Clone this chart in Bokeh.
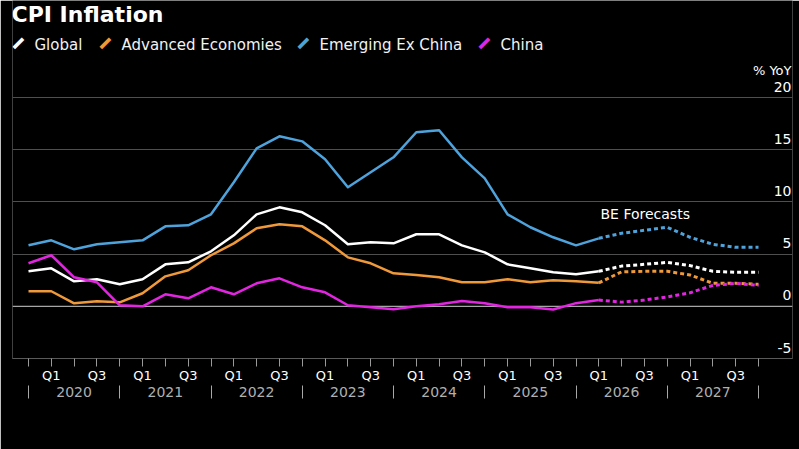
from bokeh.plotting import figure
from bokeh.models import (Range1d, LinearAxis, FixedTicker, Label, LabelSet,
                          ColumnDataSource, Span, Grid)
from bokeh.core.properties import value
from bokeh.embed import file_html
from bokeh.resources import INLINE

# ---------------- data ----------------
quarters = ["Q4 2019",
            "Q1 2020", "Q2 2020", "Q3 2020", "Q4 2020",
            "Q1 2021", "Q2 2021", "Q3 2021", "Q4 2021",
            "Q1 2022", "Q2 2022", "Q3 2022", "Q4 2022",
            "Q1 2023", "Q2 2023", "Q3 2023", "Q4 2023",
            "Q1 2024", "Q2 2024", "Q3 2024", "Q4 2024",
            "Q1 2025", "Q2 2025", "Q3 2025", "Q4 2025",
            "Q1 2026", "Q2 2026", "Q3 2026", "Q4 2026",
            "Q1 2027", "Q2 2027", "Q3 2027", "Q4 2027"]

global_cpi = [3.35, 3.64, 2.39, 2.59, 2.11, 2.59, 4.02, 4.21, 5.27, 6.80, 8.81,
              9.48, 9.00, 7.76, 5.94, 6.13, 6.03, 6.90, 6.90, 5.84, 5.17, 4.02,
              3.64, 3.26, 3.07, 3.35, 3.85, 4.02, 4.21, 3.90, 3.35, 3.26, 3.26]
advanced = [1.44, 1.44, 0.29, 0.48, 0.38, 1.25, 2.87, 3.45, 4.89, 6.03, 7.47,
            7.85, 7.66, 6.32, 4.69, 4.12, 3.16, 3.00, 2.78, 2.30, 2.30, 2.59,
            2.30, 2.49, 2.39, 2.25, 3.30, 3.35, 3.35, 3.00, 2.20, 2.20, 2.11]
emerging_ex_china = [5.84, 6.32, 5.46, 5.94, 6.13, 6.32, 7.66, 7.76, 8.81, 11.88,
                     15.13, 16.28, 15.80, 14.08, 11.40, 12.84, 14.27, 16.67, 16.86,
                     14.27, 12.26, 8.81, 7.57, 6.61, 5.84, 6.51, 6.99, 7.28, 7.57,
                     6.61, 5.94, 5.65, 5.65]
china = [4.12, 4.89, 2.78, 2.30, 0.10, 0.00, 1.15, 0.77, 1.82, 1.15, 2.20,
         2.68, 1.82, 1.34, 0.10, -0.10, -0.29, 0.00, 0.20, 0.50, 0.30, -0.10,
         -0.10, -0.30, 0.30, 0.60, 0.40, 0.60, 0.90, 1.30, 2.00, 2.20, 2.00]

first_forecast = "Q1 2026"
years = ["2020", "2021", "2022", "2023", "2024", "2025", "2026", "2027"]
y_ticks = [-5, 0, 5, 10, 15, 20]
y_tick_labels = ["-5", "0", "5", "10", "15", "20"]

series_names = ["Global", "Advanced Economies", "Emerging Ex China", "China"]
series_colors = ["#ffffff", "#f0993a", "#4ea3dc", "#e225e0"]

# ---------------- geometry ----------------
W, H = 799, 449
FL, FR, FT, FB = 12, 792, 0, 358
PXQ = 22.8125          # pixels per quarter
X0PX = 28              # pixel of first quarter
PXU = 10.44            # pixels per percentage point
x_start = (FL - X0PX) / PXQ
x_end = (FR - X0PX) / PXQ
y_start = -5
y_end = y_start + (FB - FT) / PXU


def dx(px):
    return x_start + (px - FL) / PXQ


def dy(py):
    return y_start + (FB - py) / PXU


FONT = "DejaVu Sans"

p = figure(width=W, height=H,
           x_range=Range1d(x_start, x_end), y_range=Range1d(y_start, y_end),
           output_backend="svg", toolbar_location=None,
           x_axis_location=None, y_axis_location=None,
           min_border_left=FL, min_border_right=W - FR,
           min_border_top=FT, min_border_bottom=H - FB,
           background_fill_color="black", border_fill_color="black",
           outline_line_color=None)
p.grid.visible = False

p.add_layout(Grid(dimension=1, ticker=FixedTicker(ticks=[t for t in y_ticks if t > 0]),
                  grid_line_color="#4f4f4f", grid_line_width=1))
p.add_layout(Span(location=0, dimension="width", line_color="#d0d0d0",
                  line_width=1, level="underlay"))

# ---------------- axes ----------------
xi = list(range(len(quarters)))
q_overrides = {i: (q[:2] if q[:2] in ("Q1", "Q3") else "") for i, q in enumerate(quarters)}
xq = LinearAxis(ticker=FixedTicker(ticks=xi), major_label_overrides=q_overrides,
                axis_line_color="#5a5a5a", axis_line_width=1,
                major_tick_line_color="#9a9a9a", major_tick_out=8, major_tick_in=0,
                minor_tick_line_color=None,
                major_label_text_color="white", major_label_text_font=FONT,
                major_label_text_font_size="13px", major_label_standoff=1)
p.add_layout(xq, "below")

# year row: labels at year centres, separators drawn as minor ticks
sep_ticks = [4 * k for k in range(len(years) + 1)]
year_ticks = [4 * k + 2 for k in range(len(years))]
y_overrides = {t: yr for t, yr in zip(year_ticks, years)}
xy = LinearAxis(ticker=FixedTicker(ticks=year_ticks, minor_ticks=sep_ticks),
                major_label_overrides=y_overrides,
                axis_line_color=None, major_tick_line_color=None,
                major_tick_out=0, major_tick_in=0,
                minor_tick_line_color="#a8a8a8", minor_tick_line_width=1,
                minor_tick_out=13, minor_tick_in=0,
                major_label_text_color="#b0b0b0", major_label_text_font=FONT,
                major_label_text_font_size="14px", major_label_standoff=-12)
p.add_layout(xy, "below")

# ---------------- lines ----------------
fs = quarters.index(first_forecast)
order = [2, 1, 0, 3]
all_series = [global_cpi, advanced, emerging_ex_china, china]
for k in order:
    s = all_series[k]
    c = series_colors[k]
    p.line(xi[:fs + 1], s[:fs + 1], line_color=c, line_width=2.5, line_join="round")
    p.line(xi[fs:], s[fs:], line_color=c, line_width=3, line_dash="4 3")

# ---------------- y labels ----------------
ysrc = ColumnDataSource(dict(x=[x_end] * len(y_ticks), y=y_ticks, text=y_tick_labels))
p.add_layout(LabelSet(x="x", y="y", text="text", source=ysrc, x_offset=-1, y_offset=6,
                      text_align="right", text_baseline="bottom",
                      text_color=value("white"), text_font=value(FONT),
                      text_font_size=value("14px")))
p.add_layout(Label(x=dx(FR - 1), y=dy(70), text="% YoY", text_align="right",
                   text_baseline="middle", text_color="white", text_font=FONT,
                   text_font_size="13px"))

# ---------------- title & legend ----------------
p.add_layout(Label(x=dx(11), y=dy(14), text="CPI Inflation", text_align="left",
                   text_baseline="middle", text_color="white", text_font=FONT,
                   text_font_style="bold", text_font_size="22px"))

legend_text_px = [34, 121, 319, 500]
legend_mark_px = [18, 105, 303, 484]
for name, c, tx, mx in zip(series_names, series_colors, legend_text_px, legend_mark_px):
    p.add_layout(Label(x=dx(mx), y=dy(43), text="\u2501", text_align="center",
                       text_baseline="middle", angle=0.785, text_color=c,
                       text_font=FONT, text_font_size="21px"))
    p.add_layout(Label(x=dx(tx), y=dy(44), text=name, text_align="left",
                       text_baseline="middle", text_color="#f2f2f2", text_font=FONT,
                       text_font_size="15px"))

p.add_layout(Label(x=dx(600), y=dy(213), text="BE Forecasts", text_align="left",
                   text_baseline="middle", text_color="white", text_font=FONT,
                   text_font_size="14px"))

# ---------------- footnotes ----------------
p.add_layout(Label(x=dx(12), y=dy(421),
                   text="Note: Aggregates reflect a GDP-weighted average (PPP) of forecasts from more than 30 economies.",
                   text_align="left", text_baseline="middle", text_color="#f0f0f0",
                   text_font=FONT, text_font_size="14px"))
p.add_layout(Label(x=dx(12), y=dy(439), text="Source: Bloomberg Economics",
                   text_align="left", text_baseline="middle", text_color="#f0f0f0",
                   text_font=FONT, text_font_size="14px"))

open("out.html", "w").write(file_html(p, INLINE))
